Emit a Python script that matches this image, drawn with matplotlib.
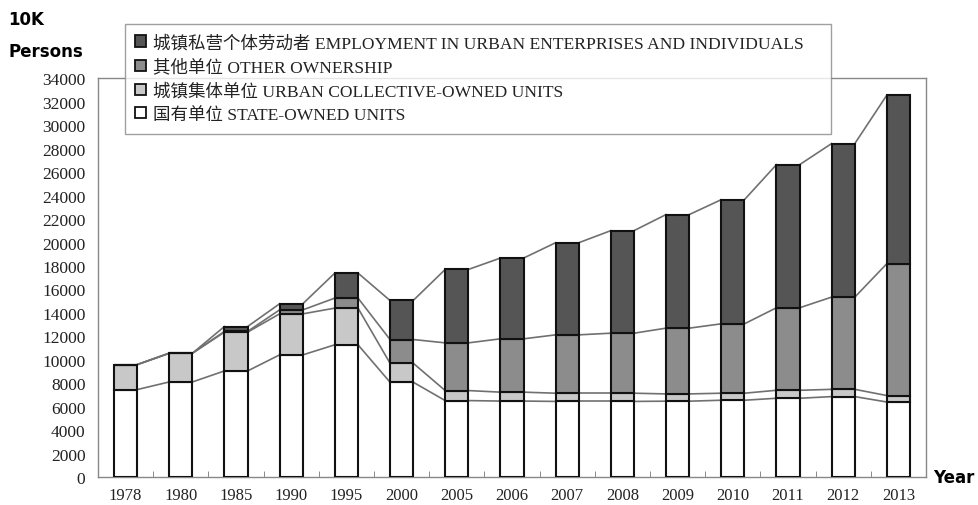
import numpy as np
import matplotlib
matplotlib.use("Agg")
import matplotlib.pyplot as plt
from matplotlib.patches import Patch

plt.rcParams['font.family'] = ['Liberation Serif', 'Noto Sans CJK SC']

# urban employment by ownership, 10K persons
years = ['1978', '1980', '1985', '1990', '1995', '2000', '2005', '2006',
         '2007', '2008', '2009', '2010', '2011', '2012', '2013']
state_owned = [7460, 8110, 9050, 10420, 11280, 8090, 6520, 6480,
               6450, 6450, 6470, 6550, 6720, 6860, 6400]
collective = [2130, 2450, 3310, 3500, 3130, 1620, 856, 760,
              700, 700, 620, 600, 680, 620, 550]
other_units = [0, 0, 60, 340, 855, 2020, 4070, 4550,
               4980, 5120, 5610, 5920, 7040, 7870, 11250]
private_indiv = [0, 0, 420, 520, 2134, 3330, 6264, 6890,
                 7860, 8750, 9690, 10590, 12210, 13100, 14380]

labels = ['国有单位 STATE-OWNED UNITS',
          '城镇集体单位 URBAN COLLECTIVE-OWNED UNITS',
          '其他单位 OTHER OWNERSHIP',
          '城镇私营个体劳动者 EMPLOYMENT IN URBAN ENTERPRISES AND INDIVIDUALS']
colors = ['white', '#c8c8c8', '#8c8c8c', '#555555']

series = [np.array(s, dtype=float) for s in (state_owned, collective, other_units, private_indiv)]

fig = plt.figure(figsize=(9.79, 5.06), dpi=100)
ax = fig.add_axes([0.1001, 0.0553, 0.8458, 0.7876])

x = np.arange(len(years))
width = 0.42
bottom = np.zeros(len(years))
tops = []
for vals, col in zip(series, colors):
    ax.bar(x, vals, width, bottom=bottom, color=col, edgecolor='#111111',
           linewidth=1.5, zorder=3)
    bottom = bottom + vals
    tops.append(bottom.copy())

# series lines joining the segment tops of neighbouring bars
for level in tops:
    for i in range(len(years) - 1):
        ax.plot([x[i] + width / 2, x[i + 1] - width / 2], [level[i], level[i + 1]],
                color='#707070', linewidth=1.2, zorder=2)

ax.set_xlim(-0.5, len(years) - 0.5)
ax.set_ylim(0, 34000)
ax.set_yticks(np.arange(0, 34001, 2000))
ax.set_yticklabels([str(v) for v in range(0, 34001, 2000)], fontsize=12.5)
ax.set_xticks(x)
ax.set_xticklabels(years, fontsize=12)
ax.set_xticks(np.arange(0.5, len(years) - 1, 1), minor=True)
ax.tick_params(axis='y', which='major', length=0, pad=9, colors='#222222')
ax.tick_params(axis='x', which='major', length=0, pad=7, colors='#222222')
ax.tick_params(axis='x', which='minor', direction='in', length=4, color='#777777')
for sp in ax.spines.values():
    sp.set_color('#888888')
    sp.set_linewidth(1.0)

handles = [Patch(facecolor=c, edgecolor='#111111', linewidth=1.3) for c in colors]
leg = fig.legend(handles[::-1], labels[::-1], loc='upper left',
                 bbox_to_anchor=(125 / 979, 1 - 25 / 506, (831 - 125) / 979, 0.0),
                 mode='expand', frameon=True, fancybox=False, fontsize=12.6,
                 handlelength=0.6, handleheight=0.6, handletextpad=0.4,
                 labelspacing=0.43, borderpad=0.6, borderaxespad=0)
leg.get_frame().set_edgecolor('#888888')
leg.get_frame().set_linewidth(1.0)
for t in leg.get_texts():
    t.set_color('#222222')

fig.text(8 / 979, 1 - 20 / 506, '10K', fontsize=12, fontweight='bold',
         family='DejaVu Sans', va='center', ha='left')
fig.text(8 / 979, 1 - 52 / 506, 'Persons', fontsize=12, fontweight='bold',
         family='DejaVu Sans', va='center', ha='left')
fig.text(933 / 979, 1 - 478 / 506, 'Year', fontsize=12, fontweight='bold',
         family='DejaVu Sans', va='center', ha='left')

fig.savefig('out.png', dpi=100)
